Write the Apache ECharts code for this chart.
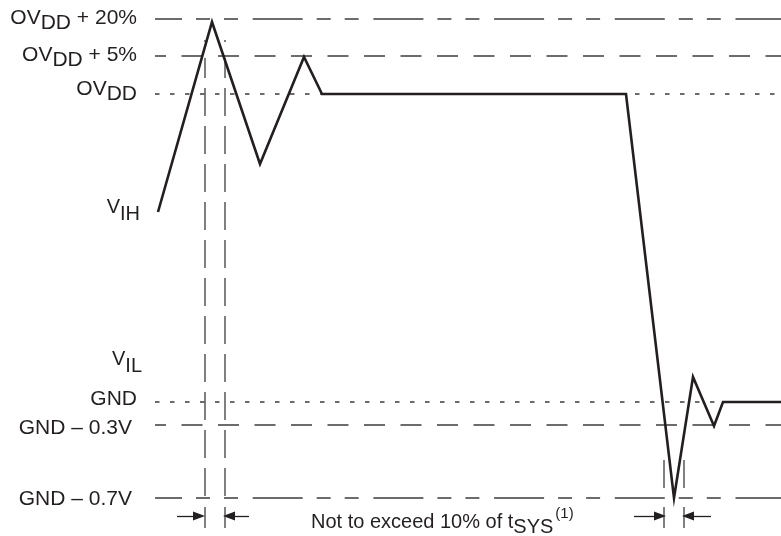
<!DOCTYPE html>
<html>
<head>
<meta charset="utf-8">
<script src="https://cdn.jsdelivr.net/npm/echarts@6/dist/echarts.min.js"></script>
<style>
html,body{margin:0;padding:0;background:#fff;}
#chart{width:781px;height:536px;}
</style>
</head>
<body>
<div id="chart"></div>
<script>
// ---- data (x: time units, y: level units, top = 0) ----
const levelNames  = ['OVDD + 20%', 'OVDD + 5%', 'OVDD', 'GND', 'GND – 0.3V', 'GND – 0.7V'];
const levelValues = [19, 56, 94, 402, 425, 498];
const levelStyle  = ['longshort', 'dash', 'dot', 'dot', 'dash', 'longshort'];
const levelStartX = 155;
const levelEndX   = 781;

const waveX = [158, 212, 260, 304, 322, 626, 674, 693, 714, 723, 781];
const waveY = [212, 22, 164, 57, 94, 94, 498, 377, 426, 402, 402];

const thresholdNames  = ['VIH', 'VIL'];
const thresholdValues = [206, 358];

const windowX = [205, 225, 664, 684];
const footnote = 'Not to exceed 10% of tSYS(1)';

// ---- chart ----
const INK = '#231f20';
const LINE = '#3c3c3c';
const FONT = '"Liberation Sans", Arial, Helvetica, sans-serif';

const patterns = {
  longshort: {type: [50, 14, 14, 14, 14, 14.7], dashOffset: 23},
  dash: {type: [21, 15.5], dashOffset: 10},
  dot: {type: [4.5, 10.5], dashOffset: 0}
};

const series = [];
levelValues.forEach((v, i) => {
  const p = patterns[levelStyle[i]];
  series.push({
    type: 'line', name: levelNames[i], silent: true, symbol: 'none', z: 1,
    data: [[levelStartX, v], [levelEndX, v]],
    lineStyle: {color: LINE, width: 1.5, type: p.type, dashOffset: p.dashOffset}
  });
});

// window marker verticals
const vTop = [40, 40, 460, 460];
windowX.forEach((x, i) => {
  series.push({
    type: 'line', silent: true, symbol: 'none', z: 1,
    data: [[x, vTop[i]], [x, 496]],
    lineStyle: {color: LINE, width: 1.3, type: i < 2 ? [2, 16, 20, 10, 28, 10, 28, 10, 28, 10, 28, 10, 28, 10, 28, 10, 28, 10, 28, 10, 28, 10, 28, 10, 28, 10] : [28, 10], dashOffset: 0}
  });
  series.push({
    type: 'line', silent: true, symbol: 'none', z: 1,
    data: [[x, 507], [x, 528]],
    lineStyle: {color: LINE, width: 1.3, type: 'solid'}
  });
});

// arrows
const arrowPairs = [[177, 199], [249, 229], [634, 660], [711, 688]];
series.push({
  type: 'line', silent: true, symbol: 'none', data: [], z: 2,
  markLine: {
    silent: true, animation: false,
    symbol: ['none', 'triangle'], symbolSize: [9, 12],
    label: {show: false},
    lineStyle: {color: INK, width: 1.3, type: 'solid'},
    data: arrowPairs.map(p => [{coord: [p[0], 516]}, {coord: [p[1], 516]}])
  }
});

// waveform
series.push({
  type: 'line', name: 'signal', silent: true, symbol: 'none', z: 5,
  data: waveX.map((x, i) => [x, waveY[i]]),
  lineStyle: {color: INK, width: 2.6, join: 'miter', miterLimit: 8}
});

const chart = echarts.init(document.getElementById('chart'));
chart.setOption({
  animation: false,
  backgroundColor: '#fff',
  grid: {left: 0, right: 0, top: 0, bottom: 0},
  xAxis: {type: 'value', min: 0, max: 781, show: false},
  yAxis: {type: 'value', min: 0, max: 536, inverse: true, show: false},
  series: series
});

// ---- labels ----
const toY = v => chart.convertToPixel({yAxisIndex: 0}, v);

function richLabel(name) {
  if (name.indexOf('OVDD') === 0) return '{b|OV}{s|DD}{b|' + name.slice(4) + '}';
  if (name[0] === 'V') return '{b|V}{s|' + name.slice(1) + '}';
  return '{b|' + name + '}';
}
const rich = {
  b: {fontSize: 21, lineHeight: 21, fontFamily: FONT, fill: INK, verticalAlign: 'top'},
  s: {fontSize: 21, lineHeight: 21, fontFamily: FONT, fill: INK, verticalAlign: 'top', padding: [5, 0, 0, 0]}
};
const richV = {
  b: {fontSize: 20, lineHeight: 20, fontFamily: FONT, fill: INK, verticalAlign: 'top'},
  s: {fontSize: 20, lineHeight: 20, fontFamily: FONT, fill: INK, verticalAlign: 'top', padding: [7, 0, 0, 0]}
};

const levelLabelRight = [137, 137, 137, 137, 132, 132];
const levelLabelShift = [-0.5, -1, -5, -2.5, 3, 1.5];
const graphics = [];
levelNames.forEach((n, i) => {
  graphics.push({
    type: 'text', silent: true,
    x: levelLabelRight[i], y: toY(levelValues[i]) + levelLabelShift[i] - 10.5,
    style: {text: richLabel(n), rich: rich, align: 'right', verticalAlign: 'top'}
  });
});
const thrRight = [140, 142];
thresholdNames.forEach((n, i) => {
  graphics.push({
    type: 'text', silent: true,
    x: thrRight[i], y: toY(thresholdValues[i]) - 9,
    style: {text: richLabel(n), rich: richV, align: 'right', verticalAlign: 'top'}
  });
});

// footnote with subscript / superscript
const fn = footnote.match(/^(.*t)(SYS)(\(1\))$/);
graphics.push({
  type: 'text', silent: true,
  x: 311, y: 522.5 - 16,
  style: {
    text: '{b|' + fn[1] + '}{s|' + fn[2] + '}{p|' + fn[3] + '}',
    align: 'left', verticalAlign: 'top',
    rich: {
      b: {fontSize: 20, lineHeight: 20, fontFamily: FONT, fill: INK, verticalAlign: 'top', padding: [6, 0, 0, 0]},
      s: {fontSize: 20, lineHeight: 20, fontFamily: FONT, fill: INK, verticalAlign: 'top', padding: [11, 0, 0, 0]},
      p: {fontSize: 15, lineHeight: 15, fontFamily: FONT, fill: INK, verticalAlign: 'top', padding: [0, 0, 0, 2]}
    }
  }
});

chart.setOption({graphic: graphics});
</script>
</body>
</html>
